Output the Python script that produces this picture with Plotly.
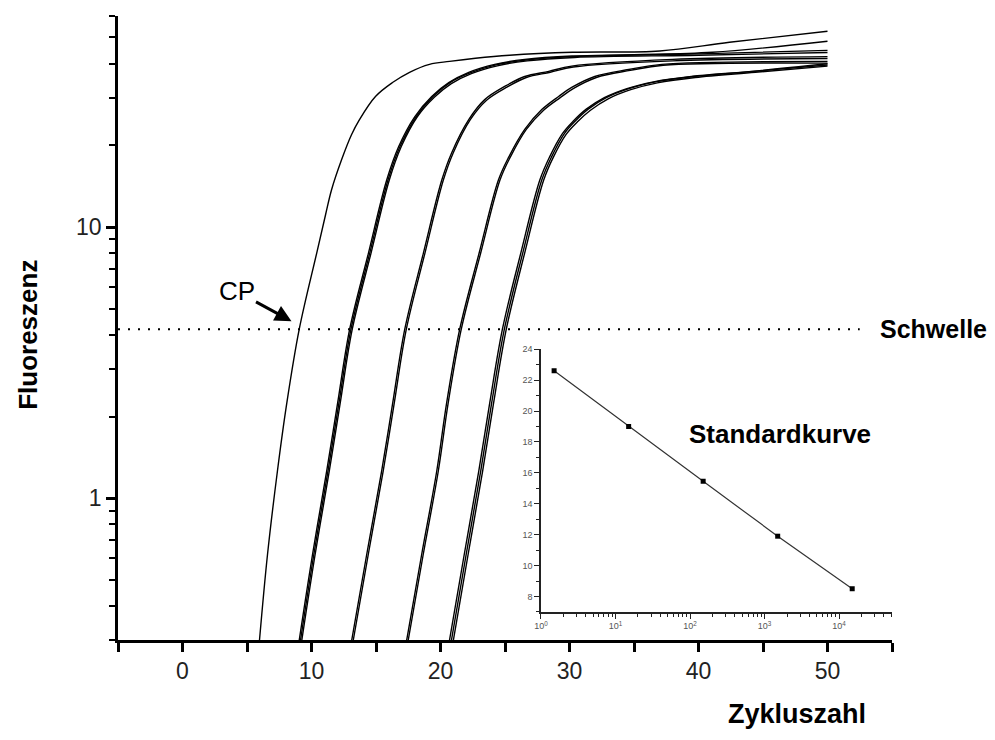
import numpy as np
import plotly.graph_objects as go

# ---------------- data ----------------
threshold = 4.2
cp_cycle = 8.45  # where the CP arrow points (curve 1 at threshold)

c1_x = [5.97, 6.59, 7.36, 8.09, 9.05, 10.40, 11.09, 11.55, 12.33, 13.10, 13.72, 14.96, 16.28, 17.60, 19.15, 20.70, 22.71, 25.35, 30.23, 37.0, 42.4, 50]
c1_y = [0.30, 0.62, 1.26, 2.25, 4.2, 8.0, 11.1, 13.7, 17.7, 21.9, 24.9, 30.3, 34.1, 37.2, 39.8, 40.8, 41.9, 43.0, 44.1, 44.6, 48.0, 52.7]

c2a_x = [9.05, 10.08, 11.18, 12.03, 12.96, 14.41, 15.83, 16.76, 18.00, 19.32, 20.64, 22.19, 24.20, 26.53, 30.2, 35.0, 41.1, 50]
c2a_y = [0.30, 0.62, 1.26, 2.25, 4.2, 8.0, 14.9, 19.8, 25.5, 30.3, 34.1, 37.2, 39.8, 41.5, 42.7, 43.2, 44.1, 48.4]
c2b_x = [9.15, 10.18, 11.28, 12.13, 13.06, 14.51, 15.93, 16.86, 18.10, 19.42, 20.74, 22.29, 24.30, 26.63, 30.3, 40.0, 50]
c2b_y = [0.30, 0.62, 1.26, 2.25, 4.2, 8.0, 14.9, 19.8, 25.5, 30.3, 34.1, 37.0, 39.6, 41.3, 42.5, 43.5, 44.8]
c2c_x = [9.25, 10.28, 11.38, 12.23, 13.16, 14.61, 16.03, 16.96, 18.20, 19.52, 20.84, 22.39, 24.40, 26.73, 30.4, 40.0, 50]
c2c_y = [0.30, 0.62, 1.26, 2.25, 4.2, 8.0, 14.9, 19.8, 25.5, 30.1, 33.8, 36.8, 39.3, 41.0, 42.2, 43.0, 44.0]

c3a_x = [13.12, 14.28, 15.44, 16.30, 17.23, 18.67, 20.10, 20.87, 22.19, 23.43, 24.98, 26.53, 28.39, 30.17, 38.0, 50]
c3a_y = [0.30, 0.62, 1.26, 2.25, 4.2, 8.0, 14.9, 18.8, 24.9, 29.5, 33.0, 35.9, 37.5, 39.2, 41.5, 42.5]
c3b_x = [13.24, 14.40, 15.56, 16.42, 17.35, 18.79, 20.22, 20.99, 22.31, 23.55, 25.10, 26.65, 28.51, 30.29, 38.0, 50]
c3b_y = [0.30, 0.62, 1.26, 2.25, 4.2, 8.0, 14.9, 18.8, 24.9, 29.3, 32.7, 35.6, 37.2, 38.9, 41.0, 41.8]

c4a_x = [17.38, 18.54, 19.71, 20.48, 21.49, 22.99, 24.49, 25.29, 26.53, 27.85, 29.16, 30.17, 31.96, 34.59, 37.15, 50]
c4a_y = [0.30, 0.62, 1.26, 2.25, 4.2, 8.0, 14.9, 18.1, 22.9, 27.1, 30.3, 32.7, 35.9, 38.1, 39.8, 40.8]
c4b_x = [17.50, 18.66, 19.83, 20.60, 21.61, 23.11, 24.61, 25.41, 26.65, 27.97, 29.28, 30.29, 32.08, 34.71, 37.27, 50]
c4b_y = [0.30, 0.62, 1.26, 2.25, 4.2, 8.0, 14.9, 18.1, 22.9, 26.9, 30.0, 32.4, 35.6, 37.8, 39.5, 40.2]

c5a_x = [20.70, 21.84, 22.97, 23.82, 24.80, 26.22, 27.70, 28.45, 29.45, 30.30, 31.30, 32.70, 34.45, 36.51, 39.45, 44.11, 50]
c5a_y = [0.30, 0.62, 1.26, 2.25, 4.2, 8.0, 14.9, 18.1, 22.1, 24.6, 27.2, 30.0, 32.4, 34.3, 35.9, 37.5, 40.0]
c5b_x = [20.85, 21.99, 23.12, 23.97, 24.95, 26.37, 27.85, 28.60, 29.60, 30.45, 31.45, 32.85, 34.60, 36.66, 39.60, 44.26, 50]
c5b_y = [0.30, 0.62, 1.26, 2.25, 4.2, 8.0, 14.9, 18.1, 22.1, 24.6, 27.2, 30.0, 32.4, 34.3, 35.9, 37.5, 39.6]
c5c_x = [21.00, 22.14, 23.27, 24.12, 25.10, 26.52, 28.00, 28.75, 29.75, 30.60, 31.60, 33.00, 34.75, 36.81, 39.75, 44.41, 50]
c5c_y = [0.30, 0.62, 1.26, 2.25, 4.2, 8.0, 14.9, 18.1, 22.0, 24.4, 26.9, 29.7, 32.1, 34.0, 35.6, 37.2, 39.2]

curves = [(c1_x, c1_y), (c2a_x, c2a_y), (c2b_x, c2b_y), (c2c_x, c2c_y),
          (c3a_x, c3a_y), (c3b_x, c3b_y), (c4a_x, c4a_y), (c4b_x, c4b_y),
          (c5a_x, c5a_y), (c5b_x, c5b_y), (c5c_x, c5c_y)]

thr_x = [-5, 52.5]

# standard curve (inset)
std_conc = [1.5, 15, 150, 1500, 15000]
std_cp = [22.6, 19.0, 15.45, 11.9, 8.5]

main_ticks_x = [0, 10, 20, 30, 40, 50]
main_ticks_y = [1, 10]
inset_ticks_x = [1, 10, 100, 1000, 10000]
inset_tick_text = ["10<sup>%d</sup>" % k for k in range(5)]

# ---------------- figure ----------------
FONT = "Liberation Sans, Arial, sans-serif"
fig = go.Figure()

for cx, cy in curves:
    fig.add_trace(go.Scatter(x=cx, y=cy, mode="lines",
                             line=dict(color="black", width=1.4, shape="spline", smoothing=1.0),
                             showlegend=False, hoverinfo="skip"))

fig.add_trace(go.Scatter(x=thr_x, y=[threshold, threshold], mode="lines",
                         line=dict(color="black", width=2, dash="2px,8px"),
                         showlegend=False, hoverinfo="skip"))

fig.add_trace(go.Scatter(x=std_conc, y=std_cp, mode="lines+markers",
                         line=dict(color="#333333", width=1.2),
                         marker=dict(symbol="square", size=5, color="black"),
                         xaxis="x2", yaxis="y2", showlegend=False, hoverinfo="skip"))

minor_y = [d * 10.0 ** k for k in (-1, 0, 1) for d in range(2, 10)]
minor_y = [v for v in minor_y if 0.299 <= v <= 60.01]
minor_x2 = [d * 10.0 ** k for k in range(0, 5) for d in range(2, 10)]
minor_x2 = [v for v in minor_x2 if v <= 50000]

fig.update_layout(
    width=995, height=740,
    margin=dict(l=118, r=103, t=16, b=100),
    paper_bgcolor="white", plot_bgcolor="white",
    font=dict(family=FONT, color="black"),
    xaxis=dict(range=[-5, 55], tickmode="array", tickvals=main_ticks_x,
               showgrid=False, zeroline=False,
               showline=True, linecolor="black", linewidth=2.5,
               ticks="outside", ticklen=9, tickwidth=2.5, tickcolor="black",
               minor=dict(tickmode="linear", tick0=-5, dtick=10, ticks="outside",
                          ticklen=9, tickwidth=2.5, tickcolor="black", showgrid=False),
               tickfont=dict(size=23, color="#222222", family=FONT),
               domain=[0, 1], anchor="y"),
    yaxis=dict(type="log", range=[np.log10(0.3), np.log10(60)],
               tickmode="array", tickvals=main_ticks_y,
               showgrid=False, zeroline=False,
               showline=True, linecolor="black", linewidth=2.5,
               ticks="outside", ticklen=9, tickwidth=2.5, tickcolor="black",
               minor=dict(tickmode="array", tickvals=minor_y, ticks="outside",
                          ticklen=6, tickwidth=2, tickcolor="black", showgrid=False),
               tickfont=dict(size=23, color="#222222", family=FONT),
               domain=[0, 1], anchor="x"),
    xaxis2=dict(type="log", range=[0, 4.71], domain=[0.5465, 1.0], anchor="y2",
                tickmode="array", tickvals=inset_ticks_x, ticktext=inset_tick_text,
                showgrid=False, zeroline=False,
                showline=True, linecolor="#222222", linewidth=1.5,
                ticks="outside", ticklen=5, tickwidth=1.2, tickcolor="#222222",
                minor=dict(tickmode="array", tickvals=minor_x2, ticks="outside",
                           ticklen=3, tickwidth=1, tickcolor="#222222", showgrid=False),
                tickfont=dict(size=9, color="#555555", family=FONT)),
    yaxis2=dict(range=[7, 24], domain=[0.045, 0.466], anchor="x2",
                tickmode="linear", tick0=0, dtick=2,
                showgrid=False, zeroline=False,
                showline=True, linecolor="#222222", linewidth=1.5,
                ticks="outside", ticklen=5, tickwidth=1.2, tickcolor="#222222",
                minor=dict(dtick=1, ticks="outside", ticklen=3, tickwidth=1,
                           tickcolor="#222222", showgrid=False),
                tickfont=dict(size=9, color="#555555", family=FONT)),
)

fig.add_annotation(xref="paper", yref="paper", x=-0.1163, y=0.489,
                   text="<b>Fluoreszenz</b>", textangle=-90, showarrow=False,
                   font=dict(size=26, family=FONT, color="black"),
                   xanchor="center", yanchor="middle")
fig.add_annotation(xref="paper", yref="paper", x=0.877, y=-0.1186,
                   text="<b>Zykluszahl</b>", showarrow=False,
                   font=dict(size=27, family=FONT, color="black"),
                   xanchor="center", yanchor="middle")
fig.add_annotation(xref="x", yref="y", x=53.9, y=np.log10(threshold),
                   text="<b>Schwelle</b>", showarrow=False,
                   font=dict(size=25, family=FONT, color="black"),
                   xanchor="left", yanchor="middle")
fig.add_annotation(xref="x2", yref="y2", x=3.21, y=18.5,
                   text="<b>Standardkurve</b>", showarrow=False,
                   font=dict(size=26, family=FONT, color="black"),
                   xanchor="center", yanchor="middle")
fig.add_annotation(xref="x", yref="y", x=cp_cycle, y=np.log10(threshold * 1.07),
                   ax=-55, ay=-30, text="CP", showarrow=True,
                   arrowhead=2, arrowsize=1.1, arrowwidth=3, arrowcolor="black",
                   font=dict(size=26, family=FONT, color="black"))

fig.write_html("out.html")
